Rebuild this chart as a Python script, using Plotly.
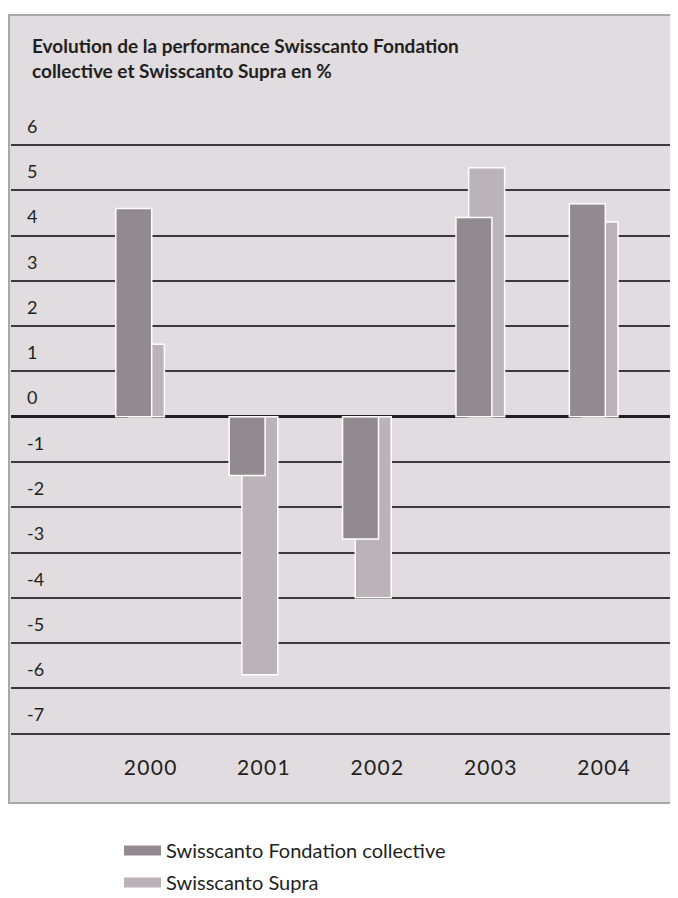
import plotly.graph_objects as go

years = ["2000", "2001", "2002", "2003", "2004"]
fondation = [4.6, -1.3, -2.7, 4.4, 4.7]
supra = [1.6, -5.7, -4.0, 5.5, 4.3]
y_ticks = list(range(-7, 7))

name_fond = "Swisscanto Fondation collective"
name_supra = "Swisscanto Supra"
title_text = "Evolution de la performance Swisscanto Fondation<br>collective et Swisscanto Supra en %"

PANEL = "#e0dcdf"
DARK = "#928a90"
LIGHT = "#bcb3b9"
TEXT = "#231f20"

# page body adds an 8px margin; figure is sized to fit the window
W, H = 670, 890
L, R, T, B = 3, 0, 102, 148
PW, PH = W - L - R, H - T - B
PLOT_BOTTOM = H - B

fig = go.Figure()
fig.add_trace(go.Bar(x=years, y=supra, name=name_supra,
                     marker=dict(color=LIGHT, line=dict(color="white", width=1.5)),
                     width=0.317, offset=-0.19, showlegend=False))
fig.add_trace(go.Bar(x=years, y=fondation, name=name_fond,
                     marker=dict(color=DARK, line=dict(color="white", width=1.5)),
                     width=0.317, offset=-0.302, showlegend=False))
# legend entries
fig.add_trace(go.Scatter(x=[None], y=[None], mode="lines", name=name_fond,
                         line=dict(color=DARK, width=13), legendgroup="a"))
fig.add_trace(go.Scatter(x=[None], y=[None], mode="lines", name=name_supra,
                         line=dict(color=LIGHT, width=13), legendgroup="b"))

fig.add_shape(type="rect", xref="paper", yref="paper",
              x0=-2 / PW, x1=1.1, y0=-53 / PH, y1=1 + 95 / PH,
              fillcolor=PANEL, line=dict(color="#a8a8a8", width=2), layer="below")

fig.update_layout(
    width=W, height=H, margin=dict(l=L, r=R, t=T, b=B, autoexpand=False),
    paper_bgcolor="white", plot_bgcolor=PANEL,
    barmode="overlay",
    font=dict(family="Lato, sans-serif", color=TEXT),
    title=dict(text=title_text, xref="container", yref="container", x=24 / W, xanchor="left",
               y=1 - 45 / H, yanchor="top",
               font=dict(family="Lato", size=19, weight="bold", color=TEXT)),
    xaxis=dict(type="category", range=[-1.2257, 4.656], showgrid=False, zeroline=False, showline=False,
               ticks="", tickvals=years, ticktext=["\u200a".join(y) for y in years],
               tickfont=dict(size=21, color=TEXT), ticklabelstandoff=3),
    yaxis=dict(range=[-7.36, 6.773], tickvals=y_ticks, ticktext=[str(v) for v in y_ticks],
               showgrid=True, gridcolor="#3d383b", gridwidth=1.5,
               zeroline=True, zerolinecolor=TEXT, zerolinewidth=3, showline=False, ticks="",
               ticklabelposition="inside top", ticklabelstandoff=13, ticklabelshift=-6,
               ticklabeloverflow="allow",
               tickfont=dict(size=18, color=TEXT)),
    legend=dict(x=(111 - L) / PW, xanchor="left", y=-(823 - PLOT_BOTTOM) / PH, yanchor="top",
                font=dict(size=20, color=TEXT), traceorder="grouped", tracegroupgap=3,
                itemwidth=37, bgcolor="rgba(0,0,0,0)"),
)

fig.write_html("out.html")
